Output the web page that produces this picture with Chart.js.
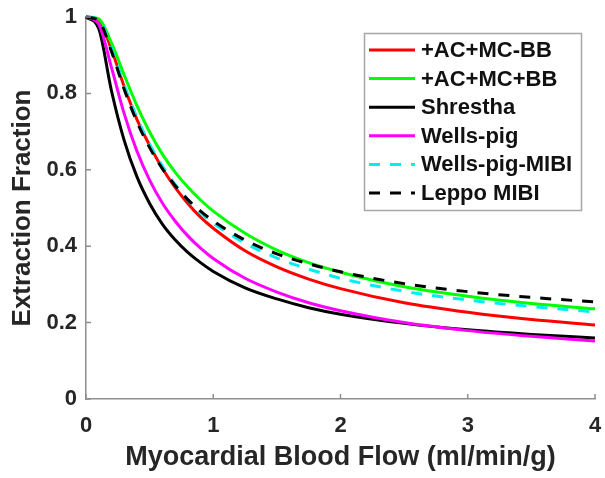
<!DOCTYPE html>
<html lang="en">
<head>
  <meta charset="UTF-8" />
  <title>Extraction Fraction vs Myocardial Blood Flow</title>
  <script src="https://cdn.jsdelivr.net/npm/chart.js"></script>
  <style>
    body { margin: 0; padding: 0; background: #fff; }
    canvas { display: block; }
  </style>
</head>
<body>
  <canvas id="chart" width="605" height="478"></canvas>

  <script>
    const flow = [0, 0.1, 0.2, 0.3, 0.4, 0.5, 0.6, 0.7, 0.8, 0.9, 1.0, 1.25, 1.5, 1.75, 2, 2.5, 3, 3.5, 4];

    const acMcMinusBB = [1, 0.992, 0.915, 0.818, 0.732, 0.664, 0.604, 0.554, 0.512, 0.476, 0.447, 0.388, 0.346, 0.314, 0.289, 0.252, 0.227, 0.208, 0.194];
    const acMcPlusBB  = [1, 0.995, 0.932, 0.848, 0.768, 0.699, 0.641, 0.594, 0.555, 0.521, 0.492, 0.434, 0.390, 0.357, 0.332, 0.294, 0.269, 0.250, 0.236];
    const shrestha    = [1, 0.970, 0.807, 0.677, 0.582, 0.512, 0.458, 0.417, 0.384, 0.357, 0.334, 0.291, 0.262, 0.239, 0.222, 0.198, 0.181, 0.169, 0.160];
    const wellsPig    = [1, 0.981, 0.868, 0.747, 0.649, 0.573, 0.513, 0.466, 0.427, 0.395, 0.368, 0.316, 0.280, 0.252, 0.231, 0.200, 0.179, 0.164, 0.152];
    const wellsPigMibi = [1, 0.993, 0.918, 0.822, 0.737, 0.667, 0.610, 0.562, 0.522, 0.488, 0.460, 0.408, 0.369, 0.340, 0.316, 0.282, 0.259, 0.242, 0.228];
    const leppoMibi   = [1, 0.990, 0.910, 0.811, 0.726, 0.658, 0.603, 0.559, 0.522, 0.492, 0.466, 0.416, 0.380, 0.354, 0.333, 0.302, 0.281, 0.266, 0.254];

    const seriesLabels = ['+AC+MC-BB', '+AC+MC+BB', 'Shrestha', 'Wells-pig', 'Wells-pig-MIBI', 'Leppo MIBI'];
    const xTickLabels = ['0', '1', '2', '3', '4'];
    const yTickLabels = ['0', '0.2', '0.4', '0.6', '0.8', '1'];

    const FONT = "'Liberation Sans', Arial, sans-serif";
    const AXIS_GREY = '#8f8f8f';
    const TEXT = '#262626';

    function pts(ys) {
      return flow.map((f, i) => ({ x: f, y: ys[i] }));
    }

    function line(label, ys, color, dash, order) {
      return {
        label: label,
        data: pts(ys),
        borderColor: color,
        backgroundColor: color,
        borderWidth: 3,
        borderDash: dash,
        pointRadius: 0,
        cubicInterpolationMode: 'monotone',
        clip: false,
        order: order
      };
    }

    // inward tick marks, like the matlab axes
    const innerTicks = {
      id: 'innerTicks',
      afterDraw(chart) {
        const { ctx, chartArea, scales } = chart;
        ctx.save();
        ctx.strokeStyle = AXIS_GREY;
        ctx.lineWidth = 1.5;
        ctx.beginPath();
        scales.x.ticks.forEach(t => {
          const px = scales.x.getPixelForValue(t.value);
          ctx.moveTo(px, chartArea.bottom);
          ctx.lineTo(px, chartArea.bottom - 5);
        });
        scales.y.ticks.forEach(t => {
          const py = scales.y.getPixelForValue(t.value);
          ctx.moveTo(chartArea.left, py);
          ctx.lineTo(chartArea.left + 5, py);
        });
        ctx.stroke();
        ctx.restore();
      }
    };

    // boxed legend in the upper right of the axes
    const legendBox = {
      id: 'legendBox',
      afterDraw(chart) {
        const { ctx, chartArea } = chart;
        const x0 = chartArea.right - 231;
        const y0 = chartArea.top + 16;
        const w = 217, h = 177;
        ctx.save();
        ctx.fillStyle = '#fff';
        ctx.fillRect(x0, y0, w, h);
        ctx.strokeStyle = '#a6a6a6';
        ctx.lineWidth = 1.5;
        ctx.strokeRect(x0 + 0.5, y0 + 0.5, w, h);
        ctx.font = 'bold 22px ' + FONT;
        ctx.textBaseline = 'middle';
        ctx.textAlign = 'left';
        chart.data.datasets.forEach((ds, i) => {
          const y = y0 + 17 + i * 28.6;
          ctx.beginPath();
          ctx.strokeStyle = ds.borderColor;
          ctx.lineWidth = 3;
          ctx.setLineDash(ds.borderDash || []);
          ctx.moveTo(x0 + 5, y);
          ctx.lineTo(x0 + 51, y);
          ctx.stroke();
          ctx.setLineDash([]);
          ctx.fillStyle = '#111';
          ctx.fillText(ds.label, x0 + 57, y + 1);
        });
        ctx.restore();
      }
    };

    new Chart(document.getElementById('chart'), {
      type: 'line',
      data: {
        datasets: [
          line(seriesLabels[0], acMcMinusBB, '#ff0000', [], 6),
          line(seriesLabels[1], acMcPlusBB, '#00ff00', [], 5),
          line(seriesLabels[2], shrestha, '#000000', [], 4),
          line(seriesLabels[3], wellsPig, '#ff00ff', [], 3),
          line(seriesLabels[4], wellsPigMibi, '#00eeee', [11, 10], 2),
          line(seriesLabels[5], leppoMibi, '#000000', [11, 10], 1)
        ]
      },
      options: {
        responsive: false,
        animation: false,
        layout: { padding: { left: 0, right: 10, top: 17, bottom: 0 } },
        plugins: {
          legend: { display: false },
          tooltip: { enabled: false }
        },
        scales: {
          x: {
            type: 'linear',
            min: 0,
            max: 4,
            afterFit: s => { s.height = 79; s.paddingLeft = 0; s.paddingRight = 0; },
            grid: { display: true, drawOnChartArea: false, drawTicks: false },
            border: { color: AXIS_GREY, width: 1.5 },
            ticks: {
              stepSize: 1,
              autoSkip: false,
              maxRotation: 0,
              padding: 14,
              color: TEXT,
              font: { family: FONT, size: 22, weight: 'bold' },
              callback: (v, i) => xTickLabels[i]
            },
            title: {
              display: true,
              text: 'Myocardial Blood Flow (ml/min/g)',
              color: TEXT,
              font: { family: FONT, size: 27, weight: 'bold' },
              padding: { top: 0, bottom: 4 }
            }
          },
          y: {
            min: 0,
            max: 1,
            afterFit: s => { s.width = 86; s.paddingTop = 0; s.paddingBottom = 0; },
            grid: { display: true, drawOnChartArea: false, drawTicks: false },
            border: { color: AXIS_GREY, width: 1.5 },
            ticks: {
              stepSize: 0.2,
              padding: 9,
              color: TEXT,
              font: { family: FONT, size: 22, weight: 'bold' },
              callback: (v, i) => yTickLabels[i]
            },
            title: {
              display: true,
              text: 'Extraction Fraction',
              color: TEXT,
              font: { family: FONT, size: 26, weight: 'bold' },
              padding: { top: 7, bottom: 0 }
            }
          }
        }
      },
      plugins: [innerTicks, legendBox]
    });
  </script>
</body>
</html>
